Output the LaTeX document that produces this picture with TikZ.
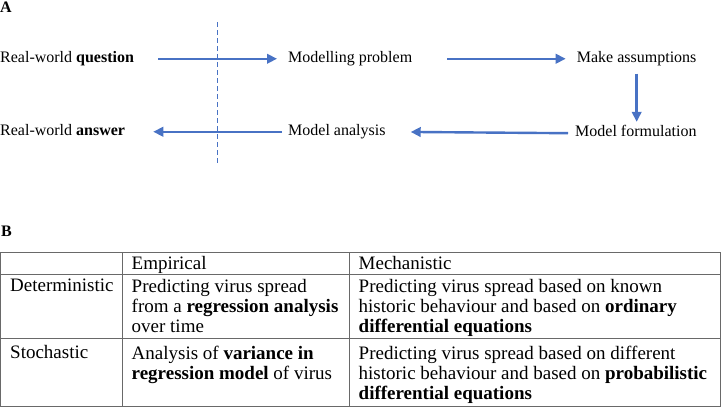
\documentclass[tikz,border=0pt]{standalone}
\usepackage{fontspec}
\setmainfont{Liberation Serif}
\usetikzlibrary{arrows.meta}
\definecolor{flowblue}{RGB}{72,114,196}
\definecolor{rulegray}{RGB}{105,105,105}
\tikzset{
  flowtext/.style={anchor=base west, inner sep=0pt, text height=11pt, text depth=4.5pt,
    font=\fontsize{16}{19}\selectfont},
  flowarrow/.style={draw=flowblue, line width=2.4pt,
    -{Triangle[length=10pt,width=9.5pt]}},
  divider/.style={draw=flowblue, line width=1.4pt, dash pattern=on 4.5pt off 3.5pt},
  paneltag/.style={anchor=base west, inner sep=0pt, font=\fontsize{16}{19}\selectfont\bfseries},
  celltext/.style={anchor=north west, inner sep=0pt, align=left,
    font=\fontsize{19}{20}\selectfont},
  tablerule/.style={draw=rulegray, line width=1pt}
}
\begin{document}
\begin{tikzpicture}[x=1pt,y=-1pt]
\useasboundingbox (0,0) rectangle (721,408);
% panel A
\node[paneltag] (tagA) at (0,12.7) {A};
\node[flowtext] (rwq) at (0,62) {Real-world \textbf{question}};
\node[flowtext] (mp) at (288,62) {Modelling problem};
\node[flowtext] (ma) at (576.7,62) {Make assumptions};
\node[flowtext] (mf) at (575,136.5) {Model formulation};
\node[flowtext] (man) at (288,135) {Model analysis};
\node[flowtext] (rwa) at (0,135) {Real-world \textbf{answer}};
\coordinate (dtop) at (217.3,22);
\coordinate (dbot) at (217.3,165);
\draw[divider] (dtop) -- (dbot);
\draw[flowarrow, shorten <=24pt, shorten >=11pt] (rwq.east) -- (mp.west);
\draw[flowarrow, shorten <=35pt, shorten >=11pt] (mp.east) -- (ma.west);
\draw[flowarrow, shorten <=7pt, shorten >=3.5pt] (ma.south) -- (ma.south |- mf.north);
\draw[flowarrow, shorten <=7pt, shorten >=25pt] (mf.west) -- (man.east);
\draw[flowarrow, shorten <=6pt, shorten >=28pt] (man.west) -- (rwa.east);
% panel B
\node[paneltag] (tagB) at (1,236) {B};
\draw[tablerule] (0,252) -- (721,252);
\draw[tablerule] (0,274) -- (721,274);
\draw[tablerule] (0,338.5) -- (721,338.5);
\draw[tablerule] (0,406) -- (721,406);
\draw[tablerule] (0.5,252) -- (0.5,406);
\draw[tablerule] (122,252) -- (122,406);
\draw[tablerule] (349,252) -- (349,406);
\draw[tablerule] (720.5,252) -- (720.5,406);
\node[celltext] (hemp) at (131.5,256) {Empirical};
\node[celltext] (hmech) at (358.5,256) {Mechanistic};
\node[celltext] (rdet) at (10,279) {Deterministic};
\node[celltext] (detemp) at (131.5,279) {Predicting virus spread\\from a \textbf{regression analysis}\\over time};
\node[celltext] (detmech) at (358.5,279) {Predicting virus spread based on known\\historic behaviour and based on \textbf{ordinary}\\\textbf{differential equations}};
\node[celltext] (rsto) at (10,345.5) {Stochastic};
\node[celltext] (stoemp) at (131.5,345.5) {Analysis of \textbf{variance in}\\\textbf{regression model} of virus};
\node[celltext] (stomech) at (358.5,345.5) {Predicting virus spread based on different\\historic behaviour and based on \textbf{probabilistic}\\\textbf{differential equations}};
\end{tikzpicture}
\end{document}
